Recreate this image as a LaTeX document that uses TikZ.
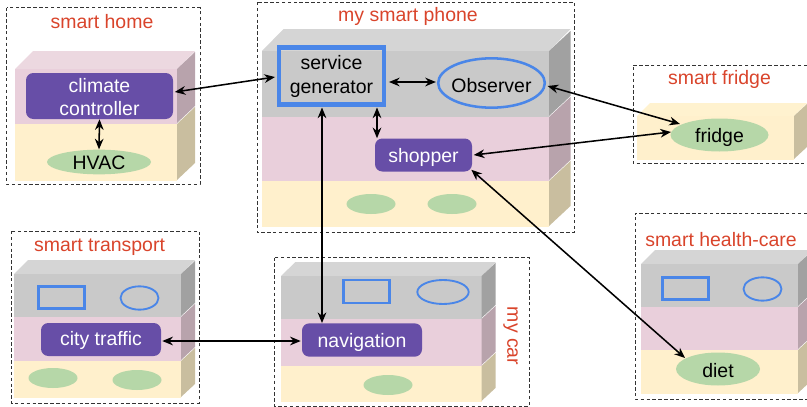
\documentclass[tikz,border=0pt]{standalone}
\usepackage{fontspec}
\setmainfont{Liberation Sans}
\usetikzlibrary{arrows.meta,shapes.geometric}
\definecolor{gF}{HTML}{C9C9C9}\definecolor{gT}{HTML}{D5D5D5}\definecolor{gS}{HTML}{A1A1A1}
\definecolor{pF}{HTML}{E9CFDB}\definecolor{pT}{HTML}{ECD8E0}\definecolor{pS}{HTML}{B8A3AC}
\definecolor{yF}{HTML}{FFF0CC}\definecolor{yT}{HTML}{FFF2CF}\definecolor{yS}{HTML}{C9BE9F}
\definecolor{purp}{HTML}{674EA7}\definecolor{blu}{HTML}{4A86E8}\definecolor{grn}{HTML}{B6D7A8}\definecolor{redt}{HTML}{D9442B}
\newcommand{\dn}[2]{\raisebox{-#1pt}[\height][\depth]{#2}}
\tikzset{
 zone/.style={draw=black!80,dashed,line width=.75pt,dash pattern=on 2.6pt off 1.8pt},
 zlabel/.style={text=redt,font=\fontsize{14.6}{16}\selectfont,inner sep=0pt},
 purplebox/.style={fill=purp,rounded corners=5.5pt,text=white,font=\fontsize{14.6}{17.3}\selectfont,align=center,inner sep=0pt},
 blob/.style={ellipse,fill=grn,inner sep=0pt,font=\fontsize{14.6}{16}\selectfont},
 bluerect/.style={draw=blu,line width=1.6pt,inner sep=0pt},
 blueell/.style={ellipse,draw=blu,line width=1.4pt,inner sep=0pt},
 link/.style={draw=black,line width=1.15pt,{Stealth[length=8pt,width=6.5pt]}-{Stealth[length=8pt,width=6.5pt]}},
}
% args: x0 x1 ytop ybot dx dy colF colS
\newcommand{\slab}[8]{%
 \fill[#7] (#1,#3) rectangle (#2,#4);
 \fill[#8] (#2,#3) -- (#2+#5,#3-#6) -- (#2+#5,#4-#6-1) -- (#2,#4-1) -- cycle;
}
% args: x0 x1 y dx dy colT
\newcommand{\slabtop}[6]{%
 \fill[#6] (#1,#3) -- (#1+#4,#3-#5) -- (#2+#4,#3-#5) -- (#2,#3) -- cycle;
}
\begin{document}
\begin{tikzpicture}[x=.75pt,y=-.75pt]
\useasboundingbox (0,0) rectangle (807,407);
\begin{scope}
\clip (0,0) rectangle (807,407);
% smart home
\draw[zone] (6.5,7.5) rectangle (200,184);
\slabtop{15}{177}{69}{18}{18}{pT}
\slab{15}{177}{69}{124}{18}{17}{pF}{pS}
\slab{15}{177}{124}{181}{18}{17}{yF}{yS}
\node[zlabel] (lhome) at (102,22) {smart home};
\node[purplebox,minimum width=110.25pt,minimum height=34.5pt] (cc) at (99.5,96) {\dn{.5}{climate}\\\dn{.5}{controller}};
\node[blob,minimum width=78pt,minimum height=18.5pt] (hvac) at (99,162) {\dn{.8}{\makebox[0pt]{HVAC}}};
% phone
\draw[zone] (257,2) rectangle (574.5,232.5);
\slabtop{262}{549}{51}{21.5}{22}{gT}
\slab{262}{549}{51}{117}{21.5}{20}{gF}{gS}
\slab{262}{549}{117}{181}{21.5}{20}{pF}{pS}
\slab{262}{549}{181}{227}{21.5}{20}{yF}{yS}
\node[zlabel] (lphone) at (408,16) {my smart phone};
\node[draw=blu,line width=3.3pt,minimum width=78.4pt,minimum height=43pt,inner sep=0pt,align=center,font=\fontsize{14.6}{18}\selectfont] (sg) at (331.5,76) {\dn{.6}{service}\\\dn{.6}{generator}};
\node[blueell,line width=1.9pt,minimum width=80pt,minimum height=37pt,font=\fontsize{14.6}{16}\selectfont] (obs) at (491.5,83) {\dn{1.8}{\makebox[0pt]{Observer}}};
\node[purplebox,minimum width=72.75pt,minimum height=24.75pt] (shop) at (423.5,155) {\dn{1.5}{shopper}};
\node[blob,minimum width=36.75pt,minimum height=15pt] (p1) at (371,204) {};
\node[blob,minimum width=36.75pt,minimum height=15pt] (p2) at (452,204) {};
% transport
\draw[zone] (11,231) rectangle (199,403);
\slabtop{14}{181}{274}{14}{14}{gT}
\slab{14}{181}{274}{317}{14}{13}{gF}{gS}
\slab{14}{181}{317}{361}{14}{13}{pF}{pS}
\slab{14}{181}{361}{398}{14}{13}{yF}{yS}
\node[zlabel] (ltrans) at (99.5,247) {smart transport};
\node[bluerect,minimum width=34.5pt,minimum height=16.5pt] (t1) at (61.5,297.5) {};
\node[blueell,minimum width=28.5pt,minimum height=17.5pt] (t2) at (139.5,298) {};
\node[purplebox,minimum width=90pt,minimum height=24.75pt] (city) at (101,339.5) {\dn{1}{city traffic}};
\node[blob,minimum width=36.75pt,minimum height=15pt] (t3) at (53,378) {};
\node[blob,minimum width=36.75pt,minimum height=15pt] (t4) at (137,380) {};
% car
\draw[zone] (274,257.5) rectangle (529.5,406);
\slabtop{281}{481.5}{276}{14.5}{14}{gT}
\slab{281}{481.5}{276}{319}{14}{13}{gF}{gS}
\slab{281}{481.5}{319}{366}{14}{13}{pF}{pS}
\slab{281}{481.5}{366}{402}{14}{13}{yF}{yS}
\node[zlabel,rotate=-90] (lcar) at (510.5,336) {my car};
\node[bluerect,minimum width=34.5pt,minimum height=17.5pt] (c1) at (366.5,291.5) {};
\node[blueell,minimum width=38.5pt,minimum height=18pt] (c2) at (443,292) {};
\node[purplebox,minimum width=90pt,minimum height=25pt] (nav) at (362,340) {\dn{2}{navigation}};
\node[blob,minimum width=36.75pt,minimum height=15pt] (c3) at (388,385) {};
% fridge
\draw[zone] (807,65) -- (633,65) -- (633,163) -- (807,163);
\slabtop{637}{794}{116}{13}{13}{yT}
\slab{637}{794}{116}{160}{13}{12}{yF}{yS}
\node[zlabel] (lfridge) at (719.5,79) {smart fridge};
\node[blob,minimum width=73.5pt,minimum height=24.75pt] (fridge) at (719.5,135) {\dn{1.5}{\makebox[0pt]{fridge}}};
% health
\draw[zone] (807,213) -- (635,213) -- (635,399) -- (807,399);
\slabtop{641}{798}{264}{14}{14}{gT}
\slab{641}{798}{264}{307}{14}{13}{gF}{gS}
\slab{641}{798}{307}{350}{14}{13}{pF}{pS}
\slab{641}{798}{350}{394}{14}{13}{yF}{yS}
\node[zlabel] (lhealth) at (721,239.5) {smart health-care};
\node[bluerect,minimum width=34.5pt,minimum height=16.5pt] (h1) at (685.5,288.5) {};
\node[blueell,minimum width=28.5pt,minimum height=17.5pt] (h2) at (762.5,289) {};
\node[blob,minimum width=63pt,minimum height=24.75pt] (diet) at (718,369) {\dn{.8}{\makebox[0pt]{diet}}};
\end{scope}
% connectors
\coordinate (sgr) at ([shift={(45.5,31.5)}]sg.center);
\coordinate (sgn) at ([shift={(-9.5,31.5)}]sg.center);
\draw[link] ([shift={(1.5,-4)}]cc.east) -- ([shift={(-2,1)}]sg.west);
\draw[link] (cc.south) -- (hvac.north);
\draw[link] ([shift={(3,6)}]sg.east) -- ([shift={(-1,-1)}]obs.west);
\draw[link] (sgr) -- (sgr|-shop.north);
\draw[link] (sgn) -- (sgn|-nav.north);
\draw[link] ([shift={(1.5,3)}]obs.east) -- ([shift={(-39.5,-11)}]fridge.center);
\draw[link] ([shift={(1.5,0)}]shop.east) -- ([shift={(-48.5,-3)}]fridge.center);
\draw[link] ([shift={(-1,-2)}]shop.south east) -- ([shift={(-33,-11)}]diet.center);
\draw[link] ([shift={(1,1.5)}]city.east) -- ([shift={(-1,1)}]nav.west);
\end{tikzpicture}
\end{document}
